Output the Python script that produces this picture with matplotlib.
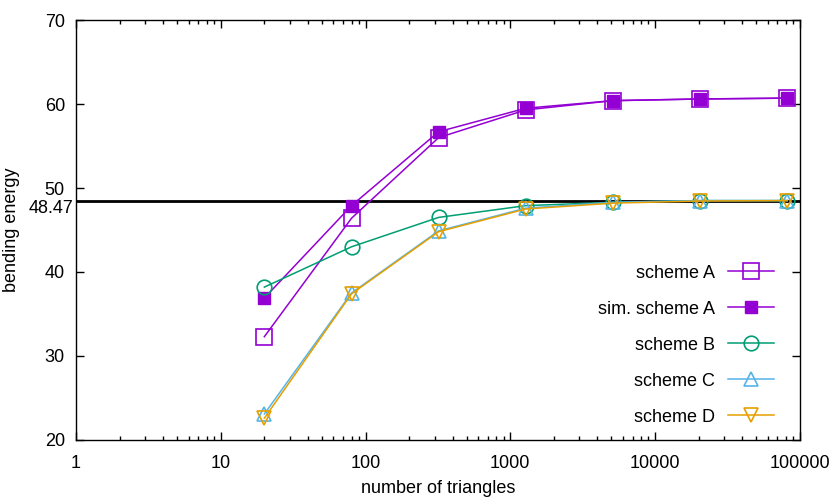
import matplotlib.pyplot as plt
from matplotlib.ticker import LogLocator, NullFormatter

plt.rcParams['font.family'] = ['Liberation Sans', 'DejaVu Sans']

# number of triangles
triangles = [20, 80, 320, 1280, 5120, 20480, 81920]

scheme_a = [32.3, 46.4, 56.0, 59.3, 60.4, 60.6, 60.7]
sim_scheme_a = [36.9, 47.9, 56.7, 59.5, 60.4, 60.6, 60.7]
scheme_b = [38.2, 43.0, 46.5, 47.9, 48.3, 48.5, 48.5]
scheme_c = [23.1, 37.5, 44.9, 47.6, 48.3, 48.5, 48.5]
scheme_d = [22.6, 37.4, 44.8, 47.5, 48.2, 48.45, 48.5]
reference = 48.47

fig = plt.figure(figsize=(8.3, 4.98), dpi=100)
ax = fig.add_axes([0.0916, 0.1165, 0.872, 0.8433])

purple = '#9400d3'
green = '#009e73'
blue = '#56b4e9'
orange = '#e69f00'

ax.axhline(reference, color='black', lw=2, zorder=1)

ax.plot(triangles, scheme_a, color=purple, lw=1.1, marker='s', ms=11,
        mfc='none', mec=purple, mew=1.2, label='scheme A')
ax.plot(triangles, sim_scheme_a, color=purple, lw=1.1, marker='s', ms=8,
        mfc=purple, mec=purple, label='sim. scheme A')
ax.plot(triangles, scheme_b, color=green, lw=1.1, marker='o', ms=10.5,
        mfc='none', mec=green, mew=1.2, label='scheme B')
ax.plot(triangles, scheme_c, color=blue, lw=1.1, marker='^', ms=10.5,
        mfc='none', mec=blue, mew=1.2, label='scheme C')
ax.plot(triangles, scheme_d, color=orange, lw=1.1, marker='v', ms=10.5,
        mfc='none', mec=orange, mew=1.2, label='scheme D')

ax.set_xscale('log')
ax.set_xlim(1, 100000)
ax.set_ylim(20, 70)
ax.set_xticks([1, 10, 100, 1000, 10000, 100000])
ax.set_xticklabels(['1', '10', '100', '1000', '10000', '100000'])
ax.xaxis.set_minor_locator(LogLocator(base=10, subs=range(2, 10)))
ax.xaxis.set_minor_formatter(NullFormatter())
ax.set_yticks([20, 30, 40, 50, 60, 70])

ax.tick_params(axis='both', which='both', direction='in', top=True, right=True,
               labelsize=13)
ax.tick_params(axis='y', pad=8)
ax.tick_params(axis='x', pad=11)
ax.tick_params(axis='both', which='major', length=5.5, width=1)
ax.tick_params(axis='both', which='minor', length=3, width=1)
for s in ax.spines.values():
    s.set_linewidth(1)

ax.text(-0.004, reference - 0.9, '48.47', transform=ax.get_yaxis_transform(),
        ha='right', va='center', fontsize=13)

ax.set_xlabel('number of triangles', fontsize=13)
ax.xaxis.set_label_coords(0.5, -0.095)
ax.set_ylabel('bending energy', fontsize=13)
ax.yaxis.set_label_coords(-0.078, 0.5)

leg = ax.legend(loc='lower right', bbox_to_anchor=(0.985, 0.0), markerfirst=False,
                frameon=False, fontsize=13, handlelength=2.6, labelspacing=1.05,
                borderaxespad=0.4, handletextpad=0.7)

fig.savefig('out.png', dpi=100)
